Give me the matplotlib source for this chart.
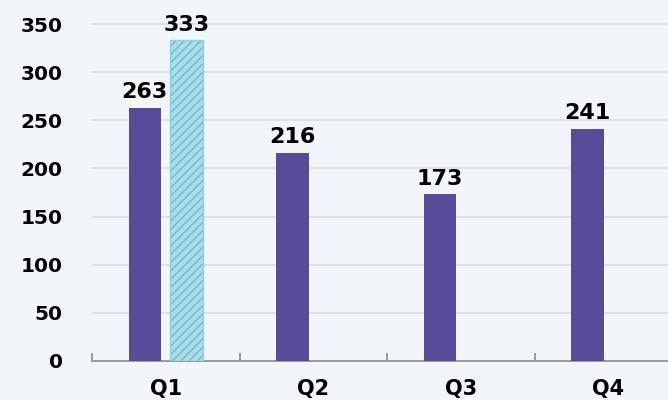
import matplotlib.pyplot as plt
import numpy as np

categories = ['Q1', 'Q2', 'Q3', 'Q4']
series_a = [263, 216, 173, 241]
series_b = [333, np.nan, np.nan, np.nan]
yticks = [0, 50, 100, 150, 200, 250, 300, 350]

bg = '#f2f5fa'
purple = '#574b9a'
cyan = '#a9dde9'

plt.rcParams['hatch.linewidth'] = 0.8

fig = plt.figure(figsize=(6.68, 4.0), dpi=100, facecolor=bg)
ax = fig.add_axes([92/668, 39/400, 1 - 92/668, 361/400])
ax.set_facecolor(bg)

x = np.arange(len(categories))
w = 0.22
off = 0.142
bars_a = ax.bar(x - off, series_a, w, color=purple, zorder=3)
# hatched fill, hatch takes the edge colour, so outline drawn separately
bars_b = ax.bar(x + off, series_b, w, color=cyan, edgecolor='#66b2c2',
                linewidth=0, hatch='////', zorder=3)
ax.bar(x + off, series_b, w, fill=False, edgecolor='#8fd0de', linewidth=1.0, zorder=4)

for b, v in zip(bars_a, series_a):
    ax.text(b.get_x() + b.get_width()/2, v + 6, str(v), ha='center', va='bottom',
            fontsize=16, fontweight='bold', color='black')
for b, v in zip(bars_b, series_b):
    if not np.isnan(v):
        ax.text(b.get_x() + b.get_width()/2, v + 6, str(int(v)), ha='center', va='bottom',
                fontsize=16, fontweight='bold', color='black')

ax.set_yticks(yticks)
ax.set_yticklabels([str(t) for t in yticks], fontsize=14.5, fontweight='bold')
ax.yaxis.grid(True, color='#d9dce0', linewidth=1.2, zorder=0)
ax.tick_params(axis='y', length=0, pad=21)

ax.set_xticks(x)
ax.set_xticklabels(categories, fontsize=15, fontweight='bold')
ax.tick_params(axis='x', length=0, pad=13)
ax.set_xticks(np.arange(-0.5, 4, 1), minor=True)
ax.tick_params(axis='x', which='minor', length=6, direction='in', color='#8c8c8c', width=1.2)

ax.set_ylim(0, 375)
ax.set_xlim(-0.5, 3.405)

for s in ['top', 'right', 'left']:
    ax.spines[s].set_visible(False)
ax.spines['bottom'].set_color('#8c8c8c')
ax.spines['bottom'].set_linewidth(1.2)

fig.savefig('out.png', dpi=100, facecolor=bg)
